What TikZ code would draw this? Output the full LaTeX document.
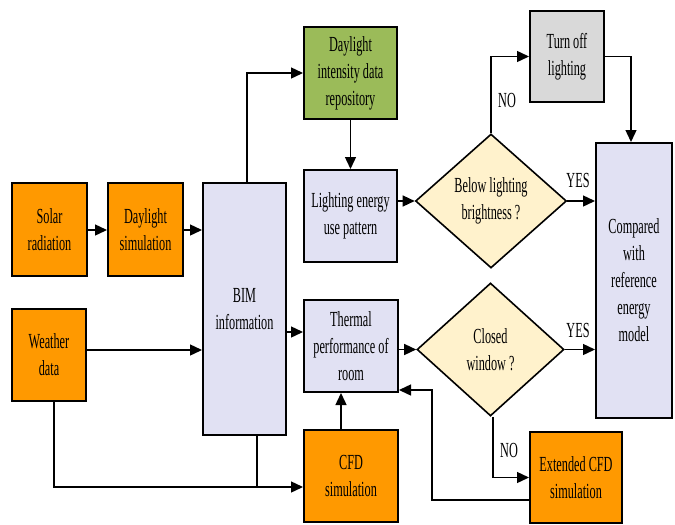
\documentclass[tikz,border=0pt]{standalone}
\usepackage{fontspec}
\setmainfont{Liberation Serif}[FakeStretch=0.57]
\usetikzlibrary{shapes.geometric,arrows.meta,calc}
\definecolor{orng}{HTML}{FF9900}
\definecolor{lav}{HTML}{E1E1F3}
\definecolor{grn}{HTML}{9BBB59}
\definecolor{gry}{HTML}{D9D9D9}
\definecolor{crm}{HTML}{FFF2CC}
\tikzset{
  box/.style={draw=black, line width=2pt, rectangle, inner sep=0pt, align=center,
    font=\fontsize{21.5}{27}\selectfont},
  dia/.style={draw=black, line width=1.6pt, diamond, inner sep=0pt, align=center, fill=crm,
    font=\fontsize{21.5}{27}\selectfont},
  arr/.style={line width=1.4pt, -{Triangle[length=12pt,width=11pt]}},
  ln/.style={line width=1.4pt},
  lbl/.style={font=\fontsize{21.5}{27}\selectfont, inner sep=0pt}
}
\begin{document}
\begin{tikzpicture}[x=1pt,y=-1pt]
\useasboundingbox (0,0) rectangle (675,525);
% boxes
\node[box, fill=orng, minimum width=75pt, minimum height=93pt] (solar) at (49.5,229.5) {Solar\\radiation};
\node[box, fill=orng, minimum width=75pt, minimum height=93pt] (dsim) at (145.5,229.5) {Daylight\\simulation};
\node[box, fill=lav, minimum width=83pt, minimum height=252pt] (bim) at (244.5,309) {BIM\\information};
\node[box, fill=orng, minimum width=74pt, minimum height=92pt] (weather) at (49,355) {Weather\\data};
\node[box, fill=grn, minimum width=93pt, minimum height=92pt] (repo) at (350.5,73) {Daylight\\intensity data\\repository};
\node[box, fill=lav, minimum width=93pt, minimum height=92pt] (light) at (350.5,216) {Lighting energy\\use pattern};
\node[box, fill=lav, minimum width=94pt, minimum height=92pt] (thermal) at (351,346) {Thermal\\performance of\\room};
\node[box, fill=orng, minimum width=94pt, minimum height=92pt] (cfd) at (351,476) {CFD\\simulation};
\node[box, fill=gry, minimum width=74pt, minimum height=91pt] (turnoff) at (567,56.5) {Turn off\\lighting};
\node[box, fill=lav, minimum width=76pt, minimum height=275pt] (comp) at (634,280.5) {Compared\\with\\reference\\energy\\model};
\node[box, fill=orng, minimum width=92pt, minimum height=91pt] (ecfd) at (576,477.5) {Extended CFD\\simulation};
\node[dia, minimum width=151pt, minimum height=134pt] (d1) at (491,201) {Below lighting\\brightness ?};
\node[dia, minimum width=147pt, minimum height=133pt] (d2) at (490.5,349.5) {Closed\\window ?};
% connectors
\draw[arr] (solar.east |- 0,230) -- (dsim.west |- 0,230);
\draw[arr] (dsim.east |- 0,230) -- (bim.west |- 0,230);
\draw[arr] ([yshift=5pt]weather.east) coordinate (wa) -- (wa -| bim.west);
\coordinate (j) at (257,487);
\draw[arr] ([xshift=5pt]weather.south) |- ([yshift=-11pt]cfd.west);
\draw[ln] ([xshift=12.5pt]bim.south) -- (j);
\draw[arr] ([yshift=14pt]thermal.west) coordinate (ti) ([yshift=14pt]thermal.west -| bim.east) -- (ti);
\draw[arr] ([xshift=2.5pt]bim.north) |- (repo.west);
\draw[arr] (repo.south) -- (light.north);
\draw[arr] (light.east |- d1.west) -- (d1.west);
\draw[arr] (d1.north) |- (turnoff.west);
\draw[arr] (turnoff.east) -| ([xshift=-3pt]comp.north);
\draw[arr] (d1.east) -- (d1.east -| comp.west);
\draw[arr] (thermal.east |- d2.west) -- (d2.west);
\draw[arr] (d2.east) -- (d2.east -| comp.west);
\draw[arr] ([xshift=2.5pt]d2.south) |- (ecfd.west);
\coordinate (fb) at (432,390);
\draw[arr] ([yshift=-22.5pt]ecfd.west) -| (fb) -- (fb -| thermal.east);
\draw[arr] ([xshift=-10pt]cfd.north) -- ([xshift=-10pt]thermal.south);
% labels
\node[lbl] (no1) at (507,100) {NO};
\node[lbl] (yes1) at (578,180) {YES};
\node[lbl] (yes2) at (578,330) {YES};
\node[lbl] (no2) at (509,450) {NO};
\end{tikzpicture}
\end{document}
